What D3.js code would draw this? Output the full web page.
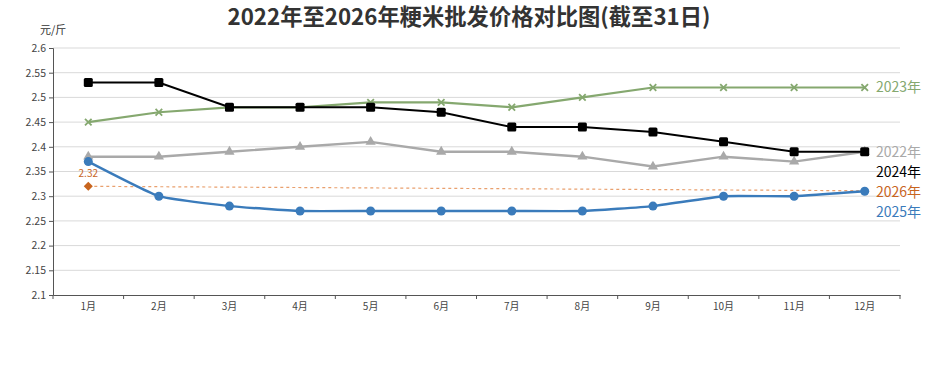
<!DOCTYPE html>
<html><head><meta charset="utf-8">
<script src="https://cdn.jsdelivr.net/npm/d3@7"></script>
<style>body{margin:0;background:#fff;}svg{display:block;font-family:"Noto Sans CJK SC","Noto Sans",sans-serif;}</style>
</head><body><svg id="c" width="938" height="390"></svg>
<script>
const months = ["1月","2月","3月","4月","5月","6月","7月","8月","9月","10月","11月","12月"];
const yTicks = [2.1,2.15,2.2,2.25,2.3,2.35,2.4,2.45,2.5,2.55,2.6];
const v2022 = [2.38,2.38,2.39,2.40,2.41,2.39,2.39,2.38,2.36,2.38,2.37,2.39];
const v2023 = [2.45,2.47,2.48,2.48,2.49,2.49,2.48,2.50,2.52,2.52,2.52,2.52];
const v2024 = [2.53,2.53,2.48,2.48,2.48,2.47,2.44,2.44,2.43,2.41,2.39,2.39];
const v2025 = [2.37,2.30,2.28,2.27,2.27,2.27,2.27,2.27,2.28,2.30,2.30,2.31];
const v2026 = [2.32];
const trend2026 = [[0,2.32],[11,2.311]];

const svg = d3.select("#c");
const m = {l:53, r:900, t:48, b:295};
const x = d3.scaleBand().domain(months).range([m.l, m.r]);
const y = d3.scaleLinear().domain([2.1,2.6]).range([m.b, m.t]);
const cx = i => x(months[i]) + x.bandwidth()/2;

// title
svg.append("text").attr("x",469).attr("y",25).attr("text-anchor","middle")
  .attr("font-size",22.3).attr("font-weight","bold").attr("fill","#333").text("2022年至2026年粳米批发价格对比图(截至31日)");
svg.append("text").attr("x",40).attr("y",34).attr("text-anchor","start")
  .attr("font-size",11).attr("fill","#333").text("元/斤");

// grid
svg.append("g").selectAll("line").data(yTicks.slice(1)).join("line")
  .attr("x1",m.l).attr("x2",m.r).attr("y1",d=>y(d)).attr("y2",d=>y(d))
  .attr("stroke","#d9d9d9").attr("stroke-width",1);

// y axis
const ya = svg.append("g").attr("transform",`translate(${m.l},0)`)
  .call(d3.axisLeft(y).tickValues(yTicks).tickSize(4).tickPadding(3).tickFormat(d3.format("")));
ya.select(".domain").attr("stroke","#555");
ya.selectAll(".tick line").attr("stroke","#555");
ya.selectAll("text").attr("font-size",10.5).attr("fill","#444").attr("font-family","Noto Sans CJK SC");

// x axis
const xa = svg.append("g").attr("transform",`translate(0,${m.b})`)
  .call(d3.axisBottom(x).tickSize(0).tickPadding(8));
xa.select(".domain").attr("stroke","#555");
xa.selectAll("text").attr("font-size",10).attr("fill","#444").attr("font-family","Noto Sans CJK SC");
const bounds = months.map((d)=>x(d)).concat([m.r]);
xa.selectAll(".bt").data(bounds).join("line").attr("class","bt")
  .attr("x1",d=>d).attr("x2",d=>d).attr("y1",0).attr("y2",4).attr("stroke","#555");

// 2026 dashed trend
svg.append("path").datum(trend2026)
  .attr("d", d3.line().x(d=>cx(d[0])).y(d=>y(d[1])))
  .attr("fill","none").attr("stroke","#e9a06e").attr("stroke-width",1.2).attr("stroke-dasharray","3,3");

function drawLine(vals, color, curve, width){
  svg.append("path").datum(vals)
    .attr("d", d3.line().x((d,i)=>cx(i)).y(d=>y(d)).curve(curve))
    .attr("fill","none").attr("stroke",color).attr("stroke-width",width);
}
const cGray="#a9a9a9", cGreen="#85a86f", cBlack="#000", cBlue="#3a7bbb", cOrange="#c8651e";
drawLine(v2022,cGray,d3.curveLinear,2.4);
drawLine(v2023,cGreen,d3.curveLinear,2.2);
drawLine(v2024,cBlack,d3.curveLinear,2);
drawLine(v2025,cBlue,d3.curveCardinal.tension(0.6),2.4);

// markers
svg.append("g").selectAll("path").data(v2022).join("path")
  .attr("transform",(d,i)=>`translate(${cx(i)},${y(d)})`)
  .attr("d", d3.symbol(d3.symbolTriangle, 45)).attr("fill",cGray);
svg.append("g").selectAll("path").data(v2023).join("path")
  .attr("transform",(d,i)=>`translate(${cx(i)},${y(d)})`)
  .attr("d", d3.symbol(d3.symbolX, 30)).attr("stroke",cGreen).attr("stroke-width",1.8).attr("fill","none");
svg.append("g").selectAll("rect").data(v2024).join("rect")
  .attr("x",(d,i)=>cx(i)-4.5).attr("y",d=>y(d)-4.5).attr("width",9).attr("height",9).attr("rx",1.5).attr("fill",cBlack);
svg.append("g").selectAll("circle").data(v2025).join("circle")
  .attr("cx",(d,i)=>cx(i)).attr("cy",d=>y(d)).attr("r",4.5).attr("fill",cBlue);
svg.append("g").selectAll("rect").data(v2026).join("rect")
  .attr("transform",(d,i)=>`translate(${cx(i)},${y(d)}) rotate(45)`)
  .attr("x",-3.2).attr("y",-3.2).attr("width",6.4).attr("height",6.4).attr("fill",cOrange);
svg.append("g").selectAll("text").data(v2026).join("text")
  .attr("x",(d,i)=>cx(i)).attr("y",d=>y(d)-9).attr("text-anchor","middle")
  .attr("font-size",10).attr("fill",cOrange).text(d=>d);

// end labels with dodge
const ends = [
  {name:"2023年", v:v2023[11], c:cGreen},
  {name:"2022年", v:v2022[11], c:cGray},
  {name:"2024年", v:v2024[11], c:cBlack},
  {name:"2026年", v:trend2026[1][1], c:cOrange},
  {name:"2025年", v:v2025[11], c:cBlue}
];
let last = -Infinity;
ends.forEach(e=>{ let py = y(e.v); if(py < last+20) py = last+20; e.py = py; last = py; });
svg.append("g").selectAll("text").data(ends).join("text")
  .attr("x",876).attr("y",d=>d.py).attr("dy","0.35em")
  .attr("font-size",14).attr("fill",d=>d.c).text(d=>d.name);
</script></body></html>
